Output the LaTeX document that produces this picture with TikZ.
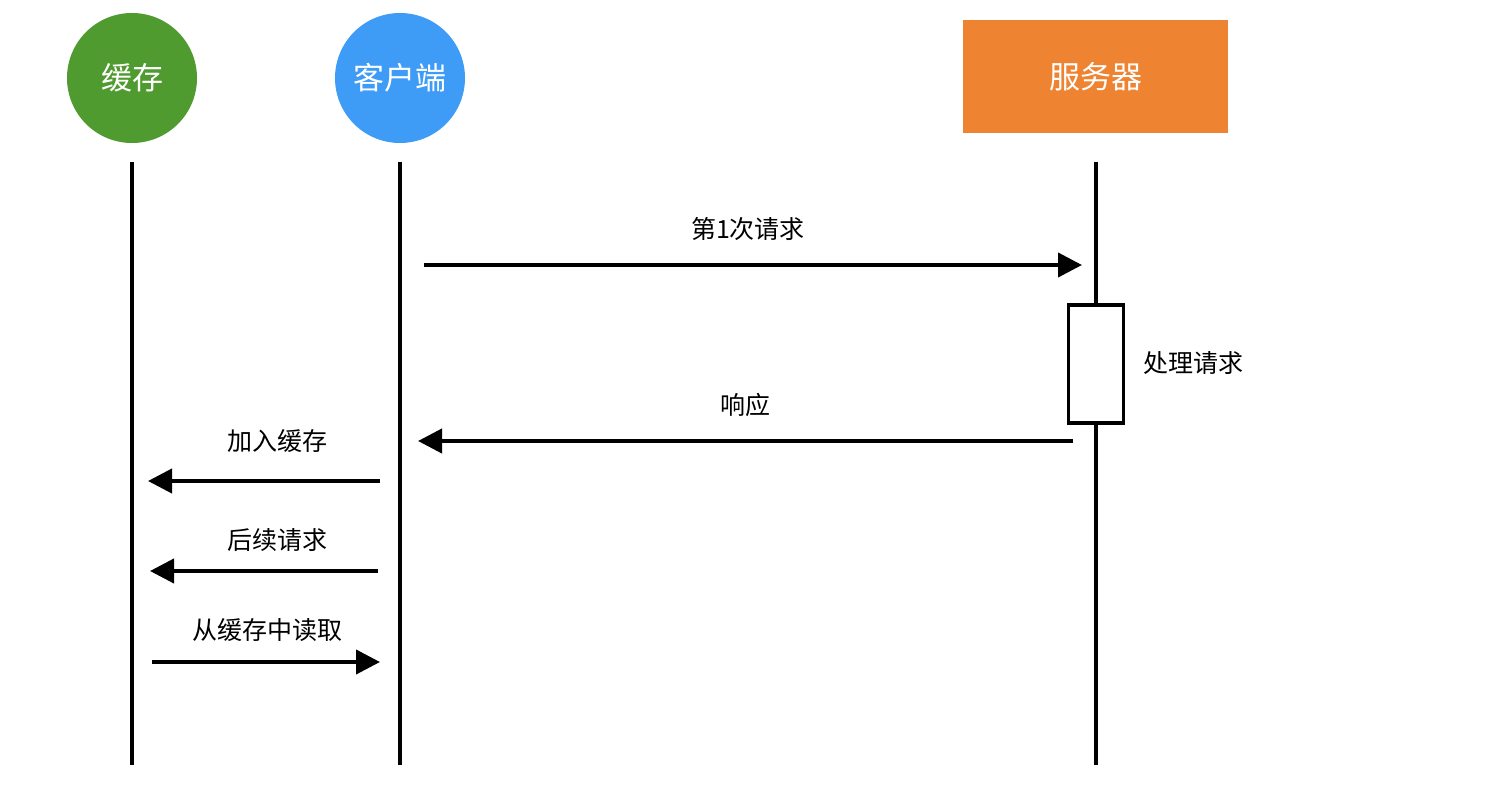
\documentclass[tikz,border=0pt]{standalone}
\usepackage{fontspec}
\setmainfont{Noto Sans CJK SC}
\usetikzlibrary{arrows.meta}
\definecolor{cachegreen}{HTML}{4F9B2F}
\definecolor{clientblue}{HTML}{3E9CF6}
\definecolor{serverorange}{HTML}{EE8331}
\tikzset{
  actorcircle/.style={circle, minimum size=130pt, inner sep=0pt, text=white, font=\fontsize{31}{34}\selectfont},
  actorbox/.style={rectangle, minimum width=265pt, minimum height=113pt, inner sep=0pt, text=white, font=\fontsize{31}{34}\selectfont},
  lifeline/.style={line width=3.5pt, black},
  msg/.style={line width=4pt, black, -{Triangle[length=24pt,width=24pt]}},
  msglabel/.style={font=\fontsize{25}{28}\selectfont, text=black, inner sep=0pt},
  actbox/.style={draw=black, line width=3.5pt, fill=white, minimum width=55pt, minimum height=118pt, inner sep=0pt}
}
\begin{document}
\begin{tikzpicture}[x=1pt,y=-1pt]
\useasboundingbox (0,0) rectangle (1488,805);
\fill[white] (0,0) rectangle (1488,805);
% actors
\node[actorcircle, fill=cachegreen] (cache) at (132,78) {缓存};
\node[actorcircle, fill=clientblue] (client) at (400,78) {客户端};
\node[actorbox, fill=serverorange] (server) at (1095.5,76.5) {服务器};
% lifeline coordinates
\coordinate (cachetop) at (132,162);
\coordinate (cachebot) at (132,765);
\coordinate (clienttop) at (400,162);
\coordinate (clientbot) at (400,765);
\coordinate (servertop) at (1096,162);
\coordinate (serverbot) at (1096,765);
% activation box
\node[actbox] (proc) at (1096,364) {};
\draw[lifeline] (cachetop) -- (cachebot);
\draw[lifeline] (clienttop) -- (clientbot);
\draw[lifeline] (servertop) -- (proc.north);
\draw[lifeline] (proc.south) -- (serverbot);
\node[msglabel, anchor=west] (proclabel) at (1143,363) {处理请求};
% messages
\coordinate (m1s) at (424,265);
\coordinate (m1e) at (1082,265);
\draw[msg] (m1s) -- (m1e);
\node[msglabel] (m1l) at (748,229) {第1次请求};
\coordinate (m2s) at (1073,441);
\coordinate (m2e) at (418,441);
\draw[msg] (m2s) -- (m2e);
\node[msglabel] (m2l) at (745,405) {响应};
\coordinate (m3s) at (380,481);
\coordinate (m3e) at (148,481);
\draw[msg] (m3s) -- (m3e);
\node[msglabel] (m3l) at (277,441) {加入缓存};
\coordinate (m4s) at (378,571);
\coordinate (m4e) at (150,571);
\draw[msg] (m4s) -- (m4e);
\node[msglabel] (m4l) at (277,540) {后续请求};
\coordinate (m5s) at (152,662);
\coordinate (m5e) at (380,662);
\draw[msg] (m5s) -- (m5e);
\node[msglabel] (m5l) at (267,630) {从缓存中读取};
\end{tikzpicture}
\end{document}
